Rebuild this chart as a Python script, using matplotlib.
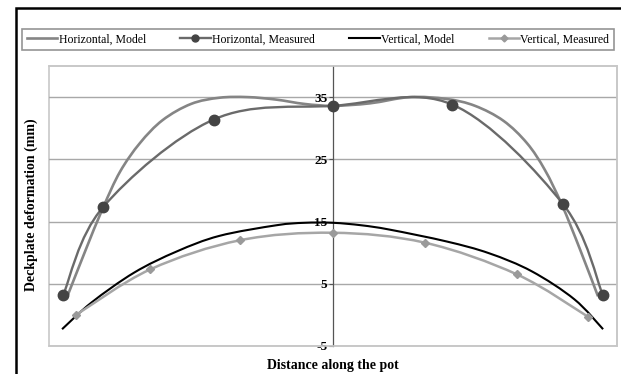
import numpy as np
import matplotlib.pyplot as plt
from matplotlib.path import Path
from matplotlib.patches import PathPatch, Rectangle
from matplotlib.lines import Line2D

plt.rcParams['font.family'] = ['Liberation Serif', 'DejaVu Serif']
plt.rcParams['axes.unicode_minus'] = False

# horizontal deformation, measured
h_meas_x = [-0.95, -0.81, -0.42, 0.0, 0.42, 0.81, 0.95]
h_meas_y = [3.2, 17.3, 31.4, 33.6, 33.8, 17.8, 3.2]

# horizontal deformation, model
h_mod_x = [-0.937, -0.873, -0.810, -0.750, -0.680, -0.600, -0.500, -0.400, -0.300,
           -0.200, -0.100, 0.0, 0.130, 0.270, 0.400, 0.500, 0.600, 0.683, 0.746,
           0.806, 0.870, 0.933]
h_mod_y = [2.8, 10.2, 17.2, 23.0, 27.6, 31.3, 33.9, 34.9, 35.0,
           34.6, 33.9, 33.6, 34.0, 35.0, 34.7, 33.6, 31.2, 27.6, 23.3,
           17.7, 10.5, 3.0]

# vertical deformation, model
v_mod_x = [-0.954, -0.850, -0.700, -0.550, -0.400, -0.200, -0.100, 0.0, 0.100,
           0.200, 0.400, 0.550, 0.700, 0.850, 0.951]
v_mod_y = [-2.3, 2.0, 6.8, 10.2, 12.7, 14.4, 14.8, 14.8, 14.4,
           13.7, 11.8, 9.9, 7.0, 2.5, -2.3]

# vertical deformation, measured
v_meas_x = [-0.905, -0.644, -0.327, 0.0, 0.324, 0.648, 0.898]
v_meas_y = [0.0, 7.3, 12.0, 13.2, 11.6, 6.5, -0.3]

yticks = [-5, 5, 15, 25, 35]


def smooth_path(xs, ys):
    # Excel-style smoothed line: cubic bezier segments through the points
    p = np.column_stack([xs, ys])
    n = len(p)
    verts = [p[0]]
    codes = [Path.MOVETO]
    for i in range(n - 1):
        prev = p[i - 1] if i > 0 else p[i]
        nxt = p[i + 2] if i + 2 < n else p[i + 1]
        c1 = p[i] + (p[i + 1] - prev) / 6
        c2 = p[i + 1] - (nxt - p[i]) / 6
        verts += [c1, c2, p[i + 1]]
        codes += [Path.CURVE4] * 3
    return Path(verts, codes)


fig = plt.figure(figsize=(6.21, 3.74), dpi=100)
ax = fig.add_axes([49 / 621, 1 - 346 / 374, 568 / 621, 280 / 374])

c_hmod = '#858585'
c_hmeas = '#6a6a6a'
c_vmeas = '#a6a6a6'

ax.add_patch(PathPatch(smooth_path(h_mod_x, h_mod_y), fill=False, ec=c_hmod, lw=1.9, zorder=3))
ax.add_patch(PathPatch(smooth_path(h_meas_x, h_meas_y), fill=False, ec=c_hmeas, lw=1.7, zorder=3))
ax.plot(h_meas_x, h_meas_y, 'o', color='#444444', ms=7.5, zorder=4)
ax.add_patch(PathPatch(smooth_path(v_mod_x, v_mod_y), fill=False, ec='black', lw=1.5, zorder=3))
ax.add_patch(PathPatch(smooth_path(v_meas_x, v_meas_y), fill=False, ec=c_vmeas, lw=1.8, zorder=3))
ax.plot(v_meas_x, v_meas_y, 'D', color='#9a9a9a', ms=4.5, zorder=4)

ax.set_xlim(-1, 1)
ax.set_ylim(-5, 40)
ax.set_yticks(yticks)
ax.set_xticks([])
ax.yaxis.grid(True, color='#a8a8a8', lw=1.0)
ax.set_axisbelow(True)
for s in ['top', 'right', 'bottom']:
    ax.spines[s].set_color('#c8c8c8')
    ax.spines[s].set_linewidth(1.2)
ax.spines['left'].set_position(('data', 0))
ax.spines['left'].set_color('#555555')
ax.spines['left'].set_linewidth(0.9)
ax.tick_params(axis='y', length=3, width=0.8, color='#555555', labelsize=9.5, pad=1)
for lab in ax.get_yticklabels():
    lab.set_fontweight('bold')

# light border of the plot area and the black outer frame
ax.add_patch(Rectangle((-1, -5), 2, 45, fill=False, ec='#c8c8c8', lw=1.2,
                       transform=ax.transData, clip_on=False, zorder=0))
fig.patches.append(Rectangle((16 / 621, -0.1), 1.2, 1 - 8 / 374 + 0.1, fill=False,
                             ec='black', lw=1.8, transform=fig.transFigure))

fig.text(333 / 621, 1 - 366 / 374, 'Distance along the pot', ha='center', va='center',
         fontsize=10, fontweight='bold')
fig.text(31 / 621, 1 - 205 / 374, 'Deckplate deformation (mm)', ha='center', va='center',
         rotation=90, fontsize=10, fontweight='bold')

handles = [
    Line2D([], [], color=c_hmod, lw=1.9),
    Line2D([], [], color=c_hmeas, lw=1.7, marker='o', mfc='#444444', mec='#444444', ms=5),
    Line2D([], [], color='black', lw=1.5),
    Line2D([], [], color=c_vmeas, lw=1.8, marker='D', mfc='#9a9a9a', mec='#9a9a9a', ms=3.5),
]
labels = ['Horizontal, Model', 'Horizontal, Measured', 'Vertical, Model', 'Vertical, Measured']
leg = fig.legend(handles, labels, loc='center', ncol=4, mode='expand',
                 bbox_to_anchor=(22 / 621, 1 - 52 / 374, 592 / 621, 25 / 374),
                 fontsize=8.5, handlelength=2.6, handletextpad=0.1, columnspacing=0.6,
                 borderaxespad=0, fancybox=False, frameon=True)
leg.get_frame().set_edgecolor('#7a7a7a')
leg.get_frame().set_linewidth(1.2)

fig.savefig('out.png', dpi=100)
